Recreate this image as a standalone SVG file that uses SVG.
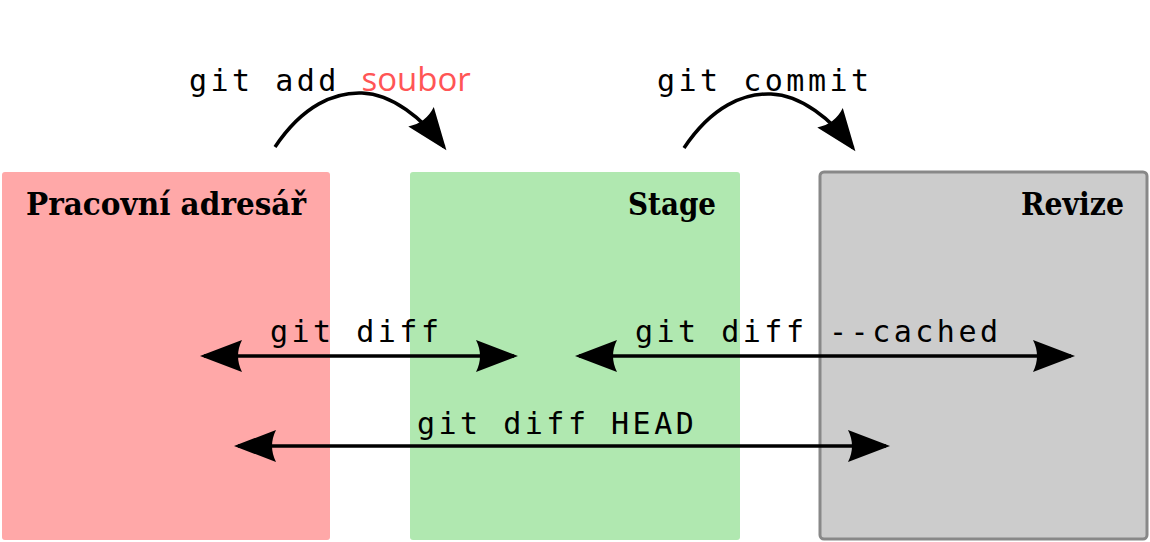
<svg xmlns="http://www.w3.org/2000/svg" width="1150" height="542" viewBox="0 0 1150 542">
<style>
.mono{font-family:"DejaVu Sans Mono","Liberation Mono",monospace;font-size:30px;letter-spacing:3.5px;fill:#000}
.title{font-family:"DejaVu Serif","Liberation Serif",serif;font-weight:bold;font-size:31px;fill:#000}
.conn{fill:none;stroke:#000;stroke-width:3.5}
</style>
<defs>
<marker id="ah" markerUnits="userSpaceOnUse" viewBox="-46 -20 52 40" refX="0" refY="0" markerWidth="52" markerHeight="40" orient="auto-start-reverse">
<path d="M4,0 L-38,-16 Q-30,0 -38,16 Z" fill="#000"/>
</marker>
</defs>
<g id="node-pracovni">
<rect x="2" y="172" width="328" height="368" rx="3" fill="#ffa8a8"/>
<text class="title" x="26" y="215" textLength="280" lengthAdjust="spacingAndGlyphs">Pracovní adresář</text>
</g>
<g id="node-stage">
<rect x="410" y="172" width="330" height="368" rx="3" fill="#b0e8b0"/>
<text class="title" x="716" y="215" text-anchor="end" textLength="88" lengthAdjust="spacingAndGlyphs">Stage</text>
</g>
<g id="node-revize">
<rect x="820" y="172" width="327" height="367" rx="4" fill="#cccccc" stroke="#888888" stroke-width="3"/>
<text class="title" x="1124" y="215" text-anchor="end" textLength="103" lengthAdjust="spacingAndGlyphs">Revize</text>
</g>
<g id="connectors">
<path class="conn" d="M275,147 C303,105 335,92 362,93 C392,94 422,118 444,147" marker-end="url(#ah)"/>
<path class="conn" d="M684,148 C712,106 744,93 771,94 C801,95 831,119 853,148" marker-end="url(#ah)"/>
<line class="conn" x1="204" y1="356" x2="514" y2="356" marker-start="url(#ah)" marker-end="url(#ah)"/>
<line class="conn" x1="579" y1="356" x2="1071" y2="356" marker-start="url(#ah)" marker-end="url(#ah)"/>
<line class="conn" x1="238" y1="446" x2="886" y2="446" marker-start="url(#ah)" marker-end="url(#ah)"/>
</g>
<g id="labels">
<text class="mono" x="189" y="91">git add <tspan font-family="'Open Sans','DejaVu Sans',sans-serif" font-size="33" letter-spacing="0" fill="#ff5555">soubor</tspan></text>
<text class="mono" x="657" y="91">git commit</text>
<text class="mono" x="270" y="342">git diff</text>
<text class="mono" x="635" y="342">git diff --cached</text>
<text class="mono" x="417" y="434">git diff HEAD</text>
</g>
</svg>
